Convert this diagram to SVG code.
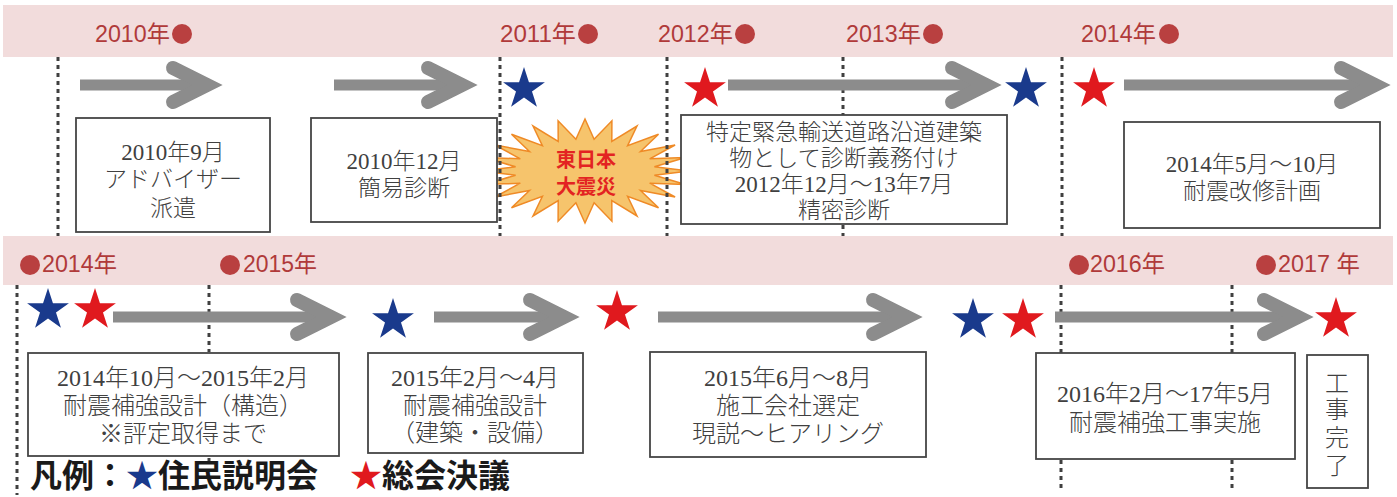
<svg xmlns="http://www.w3.org/2000/svg" xmlns:xlink="http://www.w3.org/1999/xlink" width="1397" height="497" viewBox="0 0 1397 497">
<style>
.band{fill:#f2dcdc}
.yr{font-family:"Liberation Sans Narrow","Liberation Sans","Noto Sans CJK JP",sans-serif;font-size:23px;fill:#b03a3a}
.dot{fill:#b94040}
.vl{stroke:#404040;stroke-width:3;stroke-dasharray:4 4;fill:none}
.shaft{stroke:#8c8c8c;stroke-width:11;fill:none}
.head{stroke:#8c8c8c;stroke-width:14;fill:none;stroke-linecap:round;stroke-linejoin:miter;stroke-miterlimit:6}
.box{fill:#fff;stroke:#454545;stroke-width:1.8}
.t{font-family:"Liberation Serif","Noto Sans CJK JP",serif;font-weight:300;fill:#404040;text-anchor:middle}
.t23{font-size:23px}
.t24{font-size:24px}
.blue{fill:#1a3a8c}
.red{fill:#e0191e}
.burst{fill:#f6c46c;stroke:#ef8a26;stroke-width:1.5}
.bt{font-family:"Noto Sans CJK JP",sans-serif;font-weight:700;font-size:20px;fill:#e32322;text-anchor:middle}
.lg{font-family:"Noto Sans CJK JP",sans-serif;font-weight:700;font-size:32px;fill:#1a1a1a}
</style>
<defs>
<polygon id="star" points="0,-22 4.94,-6.8 20.92,-6.8 7.99,2.6 12.93,17.8 0,8.4 -12.93,17.8 -7.99,2.6 -20.92,-6.8 -4.94,-6.8"/>
</defs>
<rect width="1397" height="497" fill="#fff"/>
<g id="bands">
<rect class="band" x="3" y="5" width="1390" height="52"/>
<rect class="band" x="3" y="236" width="1390" height="49"/>
</g>
<g id="years">
<text class="yr" x="95" y="42" textLength="75" lengthAdjust="spacingAndGlyphs">2010年</text><circle class="dot" cx="182" cy="34" r="10"/>
<text class="yr" x="500" y="42" textLength="76" lengthAdjust="spacingAndGlyphs">2011年</text><circle class="dot" cx="588" cy="34" r="10"/>
<text class="yr" x="658" y="42" textLength="75" lengthAdjust="spacingAndGlyphs">2012年</text><circle class="dot" cx="745" cy="34" r="10"/>
<text class="yr" x="846" y="42" textLength="75" lengthAdjust="spacingAndGlyphs">2013年</text><circle class="dot" cx="933" cy="34" r="10"/>
<text class="yr" x="1081" y="42" textLength="75" lengthAdjust="spacingAndGlyphs">2014年</text><circle class="dot" cx="1169" cy="34" r="10"/>
<circle class="dot" cx="30" cy="265" r="10"/><text class="yr" x="42" y="272" textLength="75" lengthAdjust="spacingAndGlyphs">2014年</text>
<circle class="dot" cx="230" cy="265" r="10"/><text class="yr" x="243" y="272" textLength="74" lengthAdjust="spacingAndGlyphs">2015年</text>
<circle class="dot" cx="1079" cy="265" r="10"/><text class="yr" x="1090" y="272" textLength="75" lengthAdjust="spacingAndGlyphs">2016年</text>
<circle class="dot" cx="1266" cy="265" r="10"/><text class="yr" x="1278" y="272" textLength="82" lengthAdjust="spacingAndGlyphs">2017 年</text>
</g>
<g id="quake">
<polygon class="burst" points="689,171 654.4,175.2 685.5,184.5 649.7,183.2 675.1,197 640.5,190.5 658.5,207.8 627.6,196.4 637,216 611.8,200.6 611.9,221.2 594.1,202.7 585,223 575.9,202.7 558.1,221.2 558.2,200.6 533,216 542.4,196.4 511.5,207.8 529.5,190.5 494.9,197 520.3,183.2 484.5,184.5 515.6,175.2 481,171 515.6,166.8 484.5,157.5 520.3,158.8 494.9,145 529.5,151.5 511.5,134.2 542.4,145.6 533,126 558.2,141.4 558.1,120.8 575.9,139.3 585,119 594.1,139.3 611.9,120.8 611.8,141.4 637,126 627.6,145.6 658.5,134.2 640.5,151.5 675.1,145 649.7,158.8 685.5,157.5 654.4,166.8"/>
<text class="bt" x="586" y="167">東日本</text>
<text class="bt" x="586" y="194">大震災</text>
</g>
<g id="connectors">
<line class="vl" x1="58" y1="57" x2="58" y2="236"/>
<line class="vl" x1="500" y1="57" x2="500" y2="236"/>
<line class="vl" x1="667" y1="57" x2="667" y2="236"/>
<line class="vl" x1="843" y1="57" x2="843" y2="115"/>
<line class="vl" x1="843" y1="225" x2="843" y2="236"/>
<line class="vl" x1="1062" y1="57" x2="1062" y2="236"/>
<line class="vl" x1="17" y1="285" x2="17" y2="495"/>
<line class="vl" x1="209" y1="285" x2="209" y2="352"/>
<line class="vl" x1="209" y1="458" x2="209" y2="466"/>
<line class="vl" x1="1061" y1="285" x2="1061" y2="353"/>
<line class="vl" x1="1061" y1="460" x2="1061" y2="492"/>
<line class="vl" x1="1232" y1="285" x2="1232" y2="353"/>
<line class="vl" x1="1232" y1="460" x2="1232" y2="492"/>
<line class="shaft" x1="80" y1="85" x2="207" y2="85"/><polyline class="head" points="173,68 207,85 173,102"/>
<line class="shaft" x1="334" y1="85" x2="462" y2="85"/><polyline class="head" points="428,68 462,85 428,102"/>
<line class="shaft" x1="728" y1="85" x2="986" y2="85"/><polyline class="head" points="952,68 986,85 952,102"/>
<line class="shaft" x1="1124" y1="85" x2="1375" y2="85"/><polyline class="head" points="1341,68 1375,85 1341,102"/>
<line class="shaft" x1="113" y1="317" x2="331" y2="317"/><polyline class="head" points="297,300 331,317 297,334"/>
<line class="shaft" x1="434" y1="317" x2="564" y2="317"/><polyline class="head" points="530,300 564,317 530,334"/>
<line class="shaft" x1="658" y1="317" x2="907" y2="317"/><polyline class="head" points="873,300 907,317 873,334"/>
<line class="shaft" x1="1055" y1="317" x2="1298" y2="317"/><polyline class="head" points="1264,300 1298,317 1264,334"/>
</g>
<g id="stars">
<use xlink:href="#star" x="524" y="89" class="blue"/>
<use xlink:href="#star" x="705" y="89" class="red"/>
<use xlink:href="#star" x="1026" y="89" class="blue"/>
<use xlink:href="#star" x="1094" y="89" class="red"/>
<use xlink:href="#star" x="48" y="310" class="blue"/>
<use xlink:href="#star" x="95" y="310" class="red"/>
<use xlink:href="#star" x="393" y="320" class="blue"/>
<use xlink:href="#star" x="617" y="312" class="red"/>
<use xlink:href="#star" x="973" y="320" class="blue"/>
<use xlink:href="#star" x="1023" y="320" class="red"/>
<use xlink:href="#star" x="1336" y="319" class="red"/>
</g>
<g id="box-2010-09">
<rect class="box" x="76" y="118" width="194" height="114"/>
<text class="t t23" x="173" y="160">2010年9月</text>
<text class="t t23" x="173" y="187">アドバイザー</text>
<text class="t t23" x="173" y="216">派遣</text>
</g>
<g id="box-2010-12">
<rect class="box" x="311" y="118" width="186" height="104"/>
<text class="t t23" x="404" y="169">2010年12月</text>
<text class="t t23" x="404" y="196">簡易診断</text>
</g>
<g id="box-2012">
<rect class="box" x="681" y="115" width="326" height="109"/>
<text class="t t23" x="844" y="140">特定緊急輸送道路沿道建築</text>
<text class="t t23" x="844" y="166">物として診断義務付け</text>
<text class="t t23" x="844" y="192">2012年12月～13年7月</text>
<text class="t t23" x="844" y="218">精密診断</text>
</g>
<g id="box-2014-05">
<rect class="box" x="1124" y="122" width="256" height="106"/>
<text class="t t23" x="1252" y="172">2014年5月～10月</text>
<text class="t t23" x="1252" y="199">耐震改修計画</text>
</g>
<g id="box-2014-10">
<rect class="box" x="28" y="353" width="311" height="103"/>
<text class="t t24" x="183" y="386">2014年10月～2015年2月</text>
<text class="t t24" x="183" y="414">耐震補強設計（構造）</text>
<text class="t t24" x="183" y="442">※評定取得まで</text>
</g>
<g id="box-2015-02">
<rect class="box" x="368" y="353" width="215" height="100"/>
<text class="t t24" x="475" y="386">2015年2月～4月</text>
<text class="t t24" x="475" y="414">耐震補強設計</text>
<text class="t t24" x="475" y="441">（建築・設備）</text>
</g>
<g id="box-2015-06">
<rect class="box" x="650" y="352" width="276" height="105"/>
<text class="t t24" x="788" y="386">2015年6月～8月</text>
<text class="t t24" x="788" y="414">施工会社選定</text>
<text class="t t24" x="788" y="442">現説～ヒアリング</text>
</g>
<g id="box-2016">
<rect class="box" x="1036" y="353" width="259" height="106"/>
<text class="t t24" x="1165" y="402">2016年2月～17年5月</text>
<text class="t t24" x="1165" y="431">耐震補強工事実施</text>
</g>
<g id="box-complete">
<rect class="box" x="1307" y="355" width="61" height="133"/>
<text class="t t24" x="1337" y="392">工</text>
<text class="t t24" x="1337" y="418">事</text>
<text class="t t24" x="1337" y="446">完</text>
<text class="t t24" x="1337" y="474">了</text>
</g>
<g id="legend">
<text class="lg" x="30" y="487">凡例：<tspan class="blue">★</tspan>住民説明会　<tspan class="red">★</tspan>総会決議</text>
</g>
</svg>
